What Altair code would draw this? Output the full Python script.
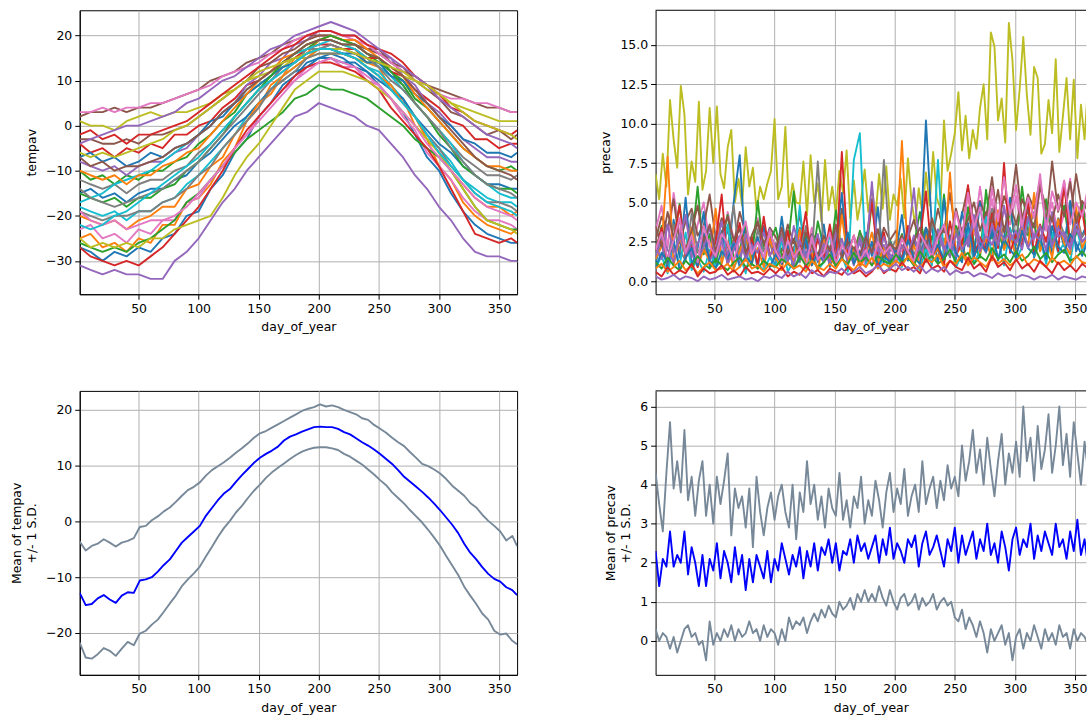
import altair as alt
import pandas as pd

FONT = "DejaVu Sans"
TAB10 = ["#1f77b4", "#ff7f0e", "#2ca02c", "#d62728", "#9467bd",
         "#8c564b", "#e377c2", "#7f7f7f", "#bcbd22", "#17becf"]
X_TICKS = [50, 100, 150, 200, 250, 300, 350]

# ---------------- tempav per station (days 1,10,20,...,360,365) ----------------
T_DAYS = [1] + list(range(10, 361, 10)) + [365]
t00 = [-27,-28,-30,-28,-29,-27,-28,-25,-24,-20,-19,-14,-11,-6,-3,2,5,9,11,14,15,16,15,13,12,9,6,3,-2,-7,-10,-15,-19,-22,-24,-25,-26,-26]
t01 = [-25,-24,-27,-26,-28,-25,-26,-22,-22,-17,-16,-13,-8,-5,1,4,9,11,15,16,19,19,18,17,14,13,8,6,0,-3,-9,-12,-17,-20,-22,-23,-24,-23]
t02 = [-10,-12,-11,-13,-11,-12,-10,-10,-8,-7,-4,-2,1,3,7,9,11,14,16,17,19,19,18,18,16,14,12,10,6,4,1,-2,-5,-7,-9,-10,-9,-10]
t03 = [-4,-6,-5,-7,-5,-6,-4,-5,-2,-2,0,1,4,6,9,10,12,14,15,17,18,18,17,17,15,15,12,11,8,6,4,1,0,-3,-3,-5,-4,-4]
t04 = [-8,-9,-10,-9,-11,-9,-8,-8,-6,-5,-2,0,3,5,9,11,14,15,18,19,21,21,20,20,18,16,15,11,9,5,3,0,-3,-5,-7,-7,-8,-8]
t05 = [-3,-3,-4,-4,-3,-4,-2,-2,-1,0,2,4,6,8,10,13,14,16,17,19,20,20,19,19,17,17,14,13,10,8,6,3,2,0,-2,-1,-3,-2]
t06 = [-23,-22,-25,-24,-26,-23,-24,-21,-21,-17,-16,-12,-9,-5,-2,2,5,8,10,13,14,15,13,13,10,9,6,2,-1,-6,-9,-12,-16,-19,-21,-21,-22,-23]
t07 = [-12,-13,-14,-13,-15,-13,-12,-12,-10,-9,-6,-4,-1,2,5,8,10,13,14,17,17,18,17,16,15,13,11,9,5,2,-1,-4,-7,-9,-11,-11,-12,-11]
t08 = [1,0,0,-1,1,2,3,2,3,3,4,5,7,8,10,11,12,13,15,15,16,16,16,15,14,14,13,11,10,8,7,5,4,3,2,1,1,1]
t09 = [-18,-19,-20,-19,-21,-19,-19,-17,-16,-13,-11,-8,-5,-2,2,5,8,11,13,15,17,17,16,15,13,12,9,6,2,-2,-5,-8,-12,-14,-16,-17,-17,-18]
t10 = [-15,-14,-16,-15,-17,-15,-14,-14,-12,-11,-8,-6,-3,0,2,5,8,10,12,13,15,15,14,14,12,10,8,6,2,-1,-4,-6,-9,-11,-13,-13,-14,-14]
t11 = [-20,-21,-22,-21,-23,-21,-20,-18,-18,-14,-13,-9,-7,-2,1,5,7,11,13,15,17,17,16,15,13,11,9,5,2,-3,-6,-10,-13,-16,-18,-18,-20,-19]
t12 = [-26,-27,-28,-27,-28,-26,-25,-23,-21,-17,-15,-12,-9,-6,-3,-1,1,3,6,7,9,8,8,7,6,4,2,0,-3,-5,-7,-10,-14,-18,-21,-22,-23,-23]
t13 = [-27,-29,-30,-31,-30,-31,-29,-27,-24,-21,-18,-14,-10,-5,-1,2,5,8,11,13,14,14,13,12,10,8,4,1,-2,-5,-9,-14,-19,-24,-25,-26,-25,-26]
t14 = [-31,-32,-33,-32,-33,-33,-34,-34,-30,-28,-25,-21,-17,-14,-10,-7,-4,-1,2,3,5,4,3,2,0,-1,-4,-7,-11,-14,-18,-21,-25,-28,-29,-29,-30,-30]
t15 = [2,3,3,4,3,4,4,5,6,7,8,10,11,12,14,15,16,18,19,20,20,20,19,18,17,16,14,12,11,9,8,7,6,5,4,4,3,3]
t16 = [3,3,4,3,4,4,5,5,6,7,8,9,11,12,13,14,16,17,19,20,21,21,20,19,18,16,14,12,10,9,7,6,6,5,5,4,3,3]
t17 = [-19,-20,-21,-20,-20,-19,-19,-17,-16,-14,-11,-9,-5,-2,1,4,8,10,12,15,16,16,16,15,13,11,8,5,2,-2,-5,-9,-12,-15,-17,-17,-18,-19]
t18 = [-25,-27,-26,-27,-26,-27,-25,-25,-23,-22,-21,-20,-16,-11,-7,-4,0,4,8,10,12,12,12,11,10,8,6,3,0,-3,-6,-10,-14,-18,-21,-22,-23,-24]
t19 = [-17,-16,-15,-13,-12,-11,-10,-8,-6,-4,-2,0,3,5,8,10,12,14,16,17,18,19,18,17,15,13,11,8,5,2,-1,-4,-8,-11,-13,-15,-16,-16]
t20 = [-7,-6,-8,-7,-9,-8,-6,-7,-5,-4,-2,1,2,5,7,9,11,13,14,16,17,17,16,16,14,14,11,10,7,5,2,0,-3,-4,-6,-6,-7,-6]
t21 = [-10,-11,-12,-11,-13,-11,-11,-9,-8,-6,-5,-2,1,4,7,10,12,15,16,18,19,20,19,19,17,15,13,11,7,4,1,-2,-5,-7,-9,-9,-10,-10]
t22 = [-15,-16,-17,-16,-18,-16,-16,-14,-13,-10,-8,-5,-2,2,5,8,11,14,16,18,19,20,19,18,16,15,12,9,5,2,-2,-5,-9,-11,-13,-14,-14,-15]
t23 = [-2,-1,-3,-2,-4,-2,-2,-1,0,1,3,5,7,9,11,13,15,17,18,20,21,21,20,20,18,17,16,14,11,9,7,4,3,1,0,-1,-2,-1]
t24 = [-4,-3,-2,-1,0,0,1,2,3,5,6,8,10,11,13,15,17,18,20,21,22,23,22,21,19,17,15,13,11,9,6,4,2,0,-2,-3,-4,-5]
t25 = [-7,-9,-8,-10,-9,-9,-8,-7,-5,-4,-2,0,3,5,8,10,12,14,16,18,19,19,18,18,16,15,13,11,8,5,2,-1,-4,-7,-9,-10,-11,-12]
t26 = [-19,-21,-22,-21,-23,-22,-21,-21,-20,-18,-15,-12,-9,-5,-2,1,4,7,10,12,14,15,14,13,11,9,6,3,0,-4,-7,-10,-13,-16,-18,-19,-20,-21]
t27 = [-14,-16,-17,-18,-17,-16,-15,-14,-12,-10,-8,-5,-2,1,4,7,10,12,14,16,17,18,17,16,15,13,10,8,5,2,-1,-5,-8,-11,-13,-14,-15,-16]
t28 = [-6,-7,-6,-7,-6,-5,-4,-3,-1,0,2,4,6,8,10,12,13,14,15,16,17,17,17,16,15,14,13,12,10,9,7,5,3,1,0,-1,-2,-3]
t29 = [-22,-23,-22,-20,-19,-17,-15,-13,-11,-9,-7,-4,-1,2,5,8,10,12,14,16,17,17,16,15,13,11,8,5,2,-2,-6,-9,-12,-15,-17,-18,-19,-20]
TEMP_SERIES = [t00, t01, t02, t03, t04, t05, t06, t07, t08, t09, t10, t11, t12, t13, t14,
               t15, t16, t17, t18, t19, t20, t21, t22, t23, t24, t25, t26, t27, t28, t29]

# ---------------- precav per station ----------------
P_DAYS3 = list(range(1, 365, 3))   # olive station
P_DAYS5 = list(range(1, 362, 5))   # other stations
p_olive = [6.8,5.2,8.1,6.0,11.5,9.0,7.2,12.4,10.6,5.5,7.6,6.3,11.4,5.8,7.0,11.0,7.5,11.1,6.8,5.9,
           8.5,9.6,5.0,6.5,4.8,8.5,6.0,7.2,4.5,6.0,5.2,6.2,7.0,10.3,5.2,6.0,9.8,4.7,6.2,5.0,
           4.9,7.6,4.2,8.0,5.0,6.2,3.8,7.7,4.5,6.0,4.3,7.0,5.6,8.3,4.0,6.4,3.9,5.2,7.1,4.4,
           5.9,4.1,6.8,4.6,7.3,3.9,5.5,4.8,6.5,4.0,7.8,5.1,3.6,5.9,4.3,6.9,4.8,8.2,5.3,4.6,
           10.2,7.0,8.1,9.4,12.0,8.3,10.5,7.8,9.6,8.4,11.0,12.5,9.0,15.8,14.9,10.2,11.6,8.8,16.4,14.0,
           9.6,12.2,15.5,11.8,9.3,13.6,12.9,8.1,8.7,11.5,9.4,14.1,8.2,10.5,12.9,9.0,12.8,7.8,11.2,9.0,12.6,8.4]
p_pink = [3.2,4.8,2.1,5.6,3.0,4.2,1.8,3.6,5.0,2.4,3.9,2.0,4.4,2.7,1.6,3.3,2.2,4.0,1.9,2.8,
          1.5,3.1,2.4,1.2,2.9,1.8,3.4,1.4,2.2,1.0,2.6,1.6,3.0,1.3,2.0,0.9,2.4,1.5,1.1,2.7,
          1.2,2.0,1.6,2.8,1.4,2.3,1.8,3.0,2.2,1.6,3.5,2.4,4.1,2.9,6.0,3.3,5.2,2.8,4.5,3.6,
          5.4,3.0,4.8,2.6,6.2,3.4,5.0,2.9,4.3,6.5,3.1,4.7,3.8]
p_brown = [2.6,4.1,3.3,5.2,2.4,3.8,4.6,2.9,3.5,5.5,2.7,4.0,3.1,2.3,4.4,3.0,2.5,3.7,2.2,3.4,
           2.8,1.9,3.6,2.4,4.2,2.1,3.0,2.6,1.8,3.3,2.2,4.6,2.5,1.9,3.1,2.4,5.2,2.0,3.4,2.6,
           3.2,2.1,2.8,3.9,2.3,3.4,2.7,4.6,3.1,5.6,2.9,4.2,6.0,3.6,5.1,4.0,6.6,3.5,5.4,4.3,
           7.4,3.9,5.5,4.6,6.4,3.7,7.6,4.4,5.8,4.0,6.8,4.5,5.2]
p_green = [1.8,3.5,1.2,2.6,4.9,1.5,2.3,6.0,1.7,3.0,1.1,2.7,4.2,1.4,2.0,3.6,1.3,5.1,1.9,2.5,
           3.4,1.6,2.2,5.7,1.5,2.9,1.2,3.8,2.1,1.4,4.5,1.8,2.4,1.1,3.2,1.6,5.0,2.0,1.3,2.6,
           1.7,3.0,1.4,2.3,4.4,1.6,2.8,1.9,5.5,2.2,3.5,1.8,4.7,2.4,1.5,5.8,2.7,3.2,2.0,4.6,
           2.3,6.0,2.9,3.7,1.9,5.2,2.6,3.4,4.8,2.1,3.0,5.0,2.5]
p_blue = [1.2,2.4,0.8,3.9,1.5,5.3,1.0,2.1,4.4,0.9,1.7,3.2,1.1,5.0,8.0,1.4,2.6,0.8,3.5,1.6,
          1.0,4.1,1.3,2.0,3.4,1.5,2.8,1.2,3.6,0.9,2.3,5.6,1.4,2.0,1.0,3.1,1.6,4.7,1.2,2.5,
          1.8,4.2,1.3,2.6,1.7,10.2,3.3,1.1,5.2,2.0,1.4,4.4,2.5,1.6,5.0,1.9,3.5,1.3,2.8,5.3,
          1.8,3.0,4.9,1.5,2.6,4.0,1.7,3.6,2.2,5.1,1.9,2.9,3.8]
p_gray = [1.5,2.8,1.1,3.6,2.0,1.3,4.3,1.8,2.5,1.2,3.1,1.6,2.2,4.8,1.4,2.7,1.0,3.3,1.9,2.4,
          1.3,3.0,1.7,2.2,1.2,3.5,1.5,7.6,2.0,1.4,3.2,1.8,2.5,1.1,2.9,1.6,2.1,1.3,7.7,1.9,
          2.6,1.4,3.1,1.7,2.4,1.2,3.8,1.9,2.7,1.5,3.3,2.0,2.6,3.9,2.2,3.0,4.6,2.4,3.5,2.9,
          3.8,2.5,3.2,4.4,2.7,3.6,2.3,4.0,3.0,2.6,4.3,2.8,3.4]
p_cyan = [0.8,1.6,0.5,2.4,1.0,3.1,0.7,1.4,0.6,2.0,0.9,1.3,3.6,0.8,1.7,0.5,2.2,1.1,0.7,1.5,
          0.9,2.6,0.6,1.3,4.8,0.8,1.9,0.7,1.2,3.0,0.9,1.6,0.6,7.7,9.4,1.1,2.3,0.8,1.5,0.7,
          1.8,0.9,2.9,1.2,0.7,2.1,1.0,7.7,1.3,2.5,0.9,1.7,3.3,1.1,2.0,4.1,1.4,2.6,1.0,3.4,
          1.3,2.2,4.0,1.6,2.7,1.1,3.1,1.8,2.4,1.2,3.5,1.9,2.8]
p_orange = [1.4,2.2,7.9,1.0,2.8,1.6,3.4,0.9,2.0,1.3,4.6,1.1,2.5,0.8,1.9,3.0,1.2,2.1,0.9,2.7,
            1.5,0.8,2.4,1.2,3.3,1.0,1.8,0.7,2.6,1.4,1.0,4.2,1.3,2.0,0.9,1.6,3.1,1.1,2.2,1.0,
            1.7,8.9,1.4,2.3,1.0,3.0,1.5,2.1,1.2,6.9,1.6,2.4,1.1,3.6,1.8,2.7,1.3,4.5,2.0,2.9,
            1.6,3.4,2.2,5.6,1.9,2.8,1.5,3.9,2.4,1.7,4.7,2.1,3.0]
p_red = [1.9,3.4,1.2,2.6,4.8,1.5,2.2,0.9,3.0,1.4,2.5,5.5,1.1,2.0,3.7,1.3,2.8,1.0,4.1,1.6,
         2.4,1.1,3.2,1.5,2.1,4.4,1.0,2.7,1.4,3.6,1.2,8.2,1.8,2.9,1.1,2.2,5.0,1.5,3.1,1.2,
         2.0,1.4,3.5,1.1,2.6,5.7,1.6,2.3,1.0,3.8,1.7,2.4,6.1,1.5,2.8,1.9,4.3,2.1,7.5,1.8,
         3.0,2.2,5.1,1.7,3.6,2.5,4.2,1.9,6.3,2.3,3.2,4.5,2.0]
p_purple = [2.2,1.4,3.6,1.8,2.7,4.2,1.5,2.4,3.1,1.3,2.0,3.8,1.6,2.5,1.2,3.0,1.9,2.6,1.4,3.3,
            1.7,2.8,1.2,3.5,2.0,1.5,2.9,1.3,2.4,1.1,3.2,1.8,2.2,1.0,2.7,1.5,6.3,1.9,2.3,1.4,
            2.1,1.3,2.6,5.9,1.8,2.4,1.5,3.0,2.0,2.7,1.6,3.4,2.2,4.2,2.5,1.8,3.6,2.3,4.8,2.6,
            3.2,2.0,4.1,2.7,3.5,1.9,4.4,2.8,3.1,2.2,3.9,2.5,3.0]
p_pink2 = [2.0,3.1,1.4,2.6,4.0,1.8,2.9,1.2,3.5,2.2,1.6,3.0,2.4,1.3,2.7,3.8,1.7,2.5,1.5,3.2,
           1.9,1.2,2.6,1.5,2.1,0.9,2.8,1.4,1.8,3.1,1.1,2.3,1.6,2.9,1.3,2.0,1.0,2.5,1.7,2.2,
           1.4,2.7,1.9,1.2,3.0,2.3,1.6,2.8,3.6,2.1,4.4,2.8,5.6,3.4,4.7,2.9,5.9,3.8,6.6,4.2,
           6.1,3.5,5.3,4.0,6.8,3.2,5.7,4.5,6.4,3.6,5.0,4.1,6.0]
p_brown2 = [3.5,2.2,4.4,2.8,3.9,2.0,3.2,4.8,2.5,3.6,1.9,3.0,4.1,2.6,3.3,1.8,2.9,3.8,2.4,3.1,
            2.0,3.4,1.7,2.7,1.5,3.1,2.2,1.6,2.9,1.9,3.6,1.4,2.5,2.1,1.6,2.8,1.8,3.3,1.5,2.4,
            2.0,2.9,1.6,2.5,3.4,2.1,4.0,2.7,3.3,2.4,4.6,3.0,3.9,5.0,3.2,4.4,3.7,5.8,3.1,4.9,
            3.6,5.2,4.3,3.4,6.0,4.7,3.8,5.5,4.1,6.3,3.7,5.1,4.4]
p_purple2 = [1.6,2.8,2.0,1.2,3.0,1.7,2.5,1.3,2.2,3.4,1.5,2.6,1.1,2.0,2.9,1.4,2.3,1.8,3.1,1.6,
             2.4,1.3,2.0,1.0,2.6,1.5,1.9,3.0,1.2,2.2,1.6,2.7,1.1,1.8,2.4,1.3,2.1,1.5,2.8,1.7,
             1.2,2.3,1.7,2.9,1.5,2.6,1.9,3.3,2.2,1.6,3.0,2.0,2.7,3.6,1.9,2.9,2.3,3.5,2.6,3.1,
             2.4,3.7,2.1,3.0,2.6,3.9,2.2,3.4,2.8,2.0,3.3,2.5,2.9]
p_blue2 = [0.9,1.8,1.2,2.6,0.7,1.5,2.1,1.0,3.0,1.3,0.8,1.9,1.4,2.4,0.9,1.6,1.1,2.8,1.3,0.9,
           1.7,1.1,2.3,0.8,1.4,2.7,1.0,1.8,1.2,2.2,0.9,1.5,3.1,1.1,1.9,1.3,2.5,1.0,1.6,1.2,
           2.0,1.3,2.6,1.5,1.1,3.4,1.7,2.3,1.4,2.9,1.8,1.2,3.7,1.6,2.4,1.9,3.1,1.4,2.7,2.0,
           1.5,3.2,2.1,1.7,2.8,1.4,3.5,2.2,1.8,3.0,2.4,1.6,2.6]
p_green_low = [1.2,0.8,1.5,1.0,0.7,1.3,0.9,1.6,1.1,0.8,1.4,1.0,0.7,1.2,1.5,0.9,1.1,0.8,1.3,1.0,
               0.9,1.4,1.1,0.8,1.6,1.0,1.3,0.9,1.2,1.7,1.0,1.4,1.1,1.8,1.2,1.5,1.0,1.6,1.3,1.1,
               1.7,1.2,1.5,1.0,1.9,1.3,1.6,1.1,1.4,2.0,1.2,1.5,1.8,1.1,1.6,1.3,2.1,1.4,1.7,1.2,
               1.9,1.3,1.6,2.2,1.4,1.8,1.2,1.7,2.0,1.3,1.5,1.9,1.4]
p_orange_low = [0.8,1.1,0.6,0.9,1.3,0.7,1.0,0.5,0.9,1.2,0.7,0.8,1.1,0.6,0.9,1.4,0.8,1.0,0.6,1.1,
                0.9,0.7,1.2,0.8,1.0,0.6,1.3,0.9,0.7,1.1,0.8,1.4,1.0,0.7,1.2,0.9,1.5,0.8,1.1,0.9,
                1.3,1.0,1.6,1.1,0.8,1.4,1.2,1.7,0.9,1.3,1.1,1.8,1.0,1.5,1.2,0.9,1.6,1.1,1.4,1.0,
                1.3,1.7,1.0,1.4,1.2,0.9,1.5,1.1,1.3,1.0,1.6,1.2,1.1]
p_red_low = [0.6,0.3,0.9,0.4,0.7,0.5,1.1,0.3,0.8,0.5,0.6,1.0,0.4,0.7,0.3,0.9,0.5,0.6,0.4,0.8,
             0.5,0.9,0.3,0.6,0.4,1.0,0.5,0.7,0.3,0.8,0.6,0.4,0.9,0.5,0.7,0.3,0.6,1.1,0.5,0.8,
             0.6,1.2,0.7,0.9,0.5,1.4,0.8,1.0,0.6,1.3,0.9,0.7,1.5,0.8,1.1,0.6,1.6,0.9,1.2,0.7,
             1.4,0.8,1.1,0.6,1.3,0.9,0.5,1.2,0.7,1.0,0.6,1.1,0.8]
p_purple_low = [0.3,0.1,0.2,0.4,0.1,0.3,0.2,0.0,0.3,0.1,0.2,0.4,0.1,0.2,0.3,0.1,0.2,0.0,0.3,0.2,
                0.4,0.2,0.6,0.3,0.5,0.2,0.7,0.4,0.3,0.6,0.5,0.8,0.4,0.6,0.9,0.5,0.7,1.0,0.6,0.8,
                1.1,0.7,0.9,0.6,1.0,0.5,0.8,0.6,0.9,0.4,0.7,0.5,0.6,0.3,0.5,0.4,0.2,0.5,0.3,0.4,
                0.2,0.4,0.3,0.1,0.3,0.2,0.4,0.1,0.3,0.2,0.1,0.3,0.2]

# ---------------- mean tempav +/- 1 S.D. ----------------
M_DAYS5 = list(range(1, 362, 5)) + [365]
tm_mean = [-12.8,-15.0,-14.8,-13.8,-13.2,-14.0,-14.6,-13.3,-12.7,-12.8,-10.6,-10.4,-10.0,-9.0,-7.8,-6.8,-5.3,-3.8,-2.8,-1.8,
           -0.8,1.0,2.4,3.8,5.0,5.8,7.1,8.3,9.4,10.5,11.4,12.1,12.7,13.4,14.5,15.2,15.6,16.1,16.5,16.9,
           17.0,16.9,16.9,16.6,16.0,15.6,14.9,14.2,13.6,12.9,12.1,11.2,10.3,9.2,8.0,7.1,6.2,5.3,4.3,3.2,
           2.0,0.7,-0.6,-2.1,-4.0,-5.6,-6.8,-8.2,-9.4,-10.3,-10.8,-11.8,-12.3,-13.2]
tm_upper = [-3.6,-5.2,-4.4,-4.0,-3.2,-3.8,-4.5,-3.8,-3.5,-3.0,-1.0,-0.8,0.2,0.9,1.8,2.5,3.5,4.6,5.6,6.2,
            7.0,8.2,9.2,9.9,10.6,11.4,12.3,13.1,14.0,15.0,15.8,16.2,16.8,17.4,18.0,18.6,19.2,19.8,20.2,20.5,
            21.0,20.6,20.8,20.5,20.0,19.6,19.2,18.5,18.2,17.3,16.6,15.9,15.0,14.2,13.5,12.4,11.4,10.3,9.9,9.3,
            8.6,7.6,6.4,5.5,4.6,3.3,2.5,1.2,0.1,-0.8,-1.8,-3.4,-2.6,-4.4]
tm_lower = [-21.7,-24.4,-24.6,-23.8,-22.7,-23.2,-24.1,-22.8,-21.6,-22.2,-20.1,-19.6,-18.5,-17.6,-16.2,-14.7,-13.3,-11.6,-10.4,-9.3,
            -8.1,-6.3,-4.6,-2.8,-1.2,0.1,1.6,2.8,4.2,5.5,6.6,7.8,8.8,9.6,10.4,11.2,11.9,12.5,12.9,13.2,
            13.3,13.3,13.1,12.8,12.1,11.6,10.9,10.2,9.3,8.4,7.4,6.5,5.2,4.2,3.2,2.0,0.9,-0.2,-1.5,-2.9,
            -4.4,-6.2,-7.9,-9.6,-11.7,-13.3,-14.8,-16.5,-17.6,-19.6,-20.3,-20.1,-21.4,-22.0]

# ---------------- mean precav +/- 1 S.D. ----------------
M_DAYS3 = list(range(1, 365, 3))
pm_mean = [2.3,1.4,2.1,1.9,2.8,1.9,2.2,2.0,2.8,1.7,2.4,2.0,1.4,2.2,1.4,2.1,1.8,2.5,1.6,2.3,
           2.0,1.5,2.4,1.7,2.2,1.3,2.1,1.5,2.2,1.9,1.6,2.3,1.5,2.1,1.8,2.5,2.1,1.7,2.2,1.9,
           2.4,1.6,2.3,1.9,2.5,1.8,2.4,2.2,2.6,2.0,2.5,1.8,2.3,2.2,2.6,2.0,2.7,2.3,2.5,2.1,
           2.4,2.7,2.0,2.6,2.2,2.9,2.1,2.5,2.3,2.0,2.6,2.4,2.7,1.9,2.5,2.8,2.2,2.4,2.7,2.3,
           1.9,2.6,2.3,2.9,2.0,2.7,2.2,2.5,2.8,2.1,2.6,2.3,3.0,2.2,2.5,2.0,2.8,2.4,1.8,2.6,
           2.9,2.2,2.6,2.4,3.0,2.1,2.7,2.3,2.8,2.5,2.2,3.0,2.4,2.6,2.1,2.8,2.3,3.1,2.2,2.6,1.9,2.5]
pm_upper = [4.3,3.5,2.8,4.3,5.6,3.9,4.6,3.8,5.4,3.6,4.2,3.2,4.1,4.6,3.2,4.0,3.0,4.2,3.5,4.1,
            4.8,2.7,3.9,3.4,3.7,2.9,3.9,2.4,4.2,3.3,2.7,3.4,3.8,3.1,3.7,4.0,3.3,2.9,4.0,2.6,
            3.8,3.3,4.6,3.5,4.0,3.1,3.7,2.9,3.9,3.4,3.2,4.3,3.1,3.6,2.9,3.7,3.4,4.2,3.0,3.6,
            3.2,4.1,3.6,2.9,3.8,4.3,3.3,3.9,3.5,4.4,3.2,3.7,4.0,3.3,4.6,3.5,3.9,4.2,3.4,4.1,
            3.6,4.5,3.9,4.2,3.7,5.0,4.1,4.6,5.4,4.3,4.9,4.0,5.2,4.4,3.7,4.6,5.3,4.0,4.8,4.3,
            5.1,4.2,6.0,4.6,5.2,4.1,5.5,4.4,4.9,5.8,4.3,5.0,6.0,4.5,5.3,4.2,5.6,4.8,4.0,5.1,4.3,6.0]
pm_lower = [0.3,0.0,0.2,0.1,-0.2,0.1,-0.3,0.0,0.3,0.4,0.1,0.2,-0.1,0.0,-0.5,0.5,-0.1,0.2,0.0,0.3,
            0.1,0.4,0.0,0.3,0.1,0.2,0.5,0.2,0.3,0.0,0.4,0.1,0.3,0.2,-0.1,0.3,0.0,0.6,0.3,0.5,
            0.4,0.6,0.2,0.5,0.7,0.5,0.8,0.6,0.9,0.7,0.6,1.0,0.8,0.9,1.1,0.8,1.2,1.0,1.3,1.0,
            1.2,1.0,1.4,1.1,0.9,1.3,1.0,0.8,1.1,1.2,0.9,1.0,1.2,0.8,1.1,0.9,1.0,1.2,0.8,1.0,
            1.1,0.9,1.0,0.6,0.5,0.8,0.3,0.6,0.4,0.1,0.5,0.2,-0.3,0.3,0.0,0.2,0.4,-0.1,0.2,-0.5,
            0.1,0.3,-0.2,0.2,0.0,0.4,0.1,-0.2,0.3,0.0,0.2,-0.1,0.4,0.1,0.2,-0.2,0.3,0.0,0.2,0.1,-0.1,0.3]


def long_frame(groups):
    rows = []
    for name, days, vals in groups:
        for d, v in zip(days, vals):
            rows.append((d, v, name))
    return pd.DataFrame(rows, columns=["day_of_year", "value", "series"])


# ---- series groups (name, days, values, colour) ----
temp_groups = [(f"s{i:02d}", T_DAYS, s, TAB10[i % 10]) for i, s in enumerate(TEMP_SERIES)]
prec_groups = [("p00", P_DAYS3, p_olive, TAB10[8]),
               ("p01", P_DAYS5, p_pink, TAB10[6]),
               ("p02", P_DAYS5, p_brown, TAB10[5]),
               ("p03", P_DAYS5, p_green, TAB10[2]),
               ("p04", P_DAYS5, p_blue, TAB10[0]),
               ("p05", P_DAYS5, p_gray, TAB10[7]),
               ("p06", P_DAYS5, p_cyan, TAB10[9]),
               ("p07", P_DAYS5, p_orange, TAB10[1]),
               ("p08", P_DAYS5, p_red, TAB10[3]),
               ("p09", P_DAYS5, p_purple, TAB10[4]),
               ("p10", P_DAYS5, p_blue2, TAB10[0]),
               ("p11", P_DAYS5, p_purple2, TAB10[4]),
               ("p12", P_DAYS5, p_brown2, TAB10[5]),
               ("p13", P_DAYS5, p_pink2, TAB10[6]),
               ("p14", P_DAYS5, p_green_low, TAB10[2]),
               ("p15", P_DAYS5, p_orange_low, TAB10[1]),
               ("p16", P_DAYS5, p_red_low, TAB10[3]),
               ("p17", P_DAYS5, p_purple_low, TAB10[4])]
tm_groups = [("tm_a_upper", M_DAYS5, tm_upper, "#778899"),
             ("tm_b_mean", M_DAYS5, tm_mean, "#0000ff"),
             ("tm_c_lower", M_DAYS5, tm_lower, "#778899")]
pm_groups = [("pm_a_upper", M_DAYS3, pm_upper, "#778899"),
             ("pm_b_mean", M_DAYS3, pm_mean, "#0000ff"),
             ("pm_c_lower", M_DAYS3, pm_lower, "#778899")]

ALL_GROUPS = temp_groups + prec_groups + tm_groups + pm_groups
COLOR_SCALE = alt.Scale(domain=[g[0] for g in ALL_GROUPS], range=[g[3] for g in ALL_GROUPS])

LEFT_W, RIGHT_W, H = 439, 432, 285
LEFT_XDOM = [1, 365]
RIGHT_XDOM = [1, 359.2]


def panel(groups, xdom, width, ydom, yticks, yfmt, ytitle, right_side):
    df = long_frame([(g[0], g[1], g[2]) for g in groups])
    lines = alt.Chart(df).mark_line(strokeWidth=1.9, clip=True, strokeJoin="round").encode(
        x=alt.X("day_of_year:Q",
                scale=alt.Scale(domain=xdom, nice=False, zero=False),
                axis=alt.Axis(title="day_of_year", values=X_TICKS, format="d",
                              labelOverlap=False, labelFlush=False)),
        y=alt.Y("value:Q",
                scale=alt.Scale(domain=ydom, nice=False, zero=False),
                axis=alt.Axis(title=ytitle, values=yticks, format=yfmt,
                              labelOverlap=False, labelFlush=False)),
        color=alt.Color("series:N", scale=COLOR_SCALE, legend=None),
    )
    if not right_side:
        return lines.properties(width=width, height=H)
    top = alt.Chart(pd.DataFrame({"k": [0]})).mark_rule(color="black", strokeWidth=1).encode(
        x=alt.value(0), x2=alt.value(width), y=alt.value(0))
    return alt.layer(lines, top).properties(
        width=width, height=H, view=alt.ViewBackground(stroke="transparent"))


top_left = panel(temp_groups, LEFT_XDOM, LEFT_W, [-37.4, 25.6],
                 [-30, -20, -10, 0, 10, 20], "d", "tempav", False)
top_right = panel(prec_groups, RIGHT_XDOM, RIGHT_W, [-0.83, 17.2],
                  [0, 2.5, 5, 7.5, 10, 12.5, 15], ".1f", "precav", True)
bottom_left = panel(tm_groups, LEFT_XDOM, LEFT_W, [-27.5, 23.4],
                    [-20, -10, 0, 10, 20], "d", ["Mean of tempav", "+/- 1 S.D."], False)
bottom_right = panel(pm_groups, RIGHT_XDOM, RIGHT_W, [-0.87, 6.4],
                     [0, 1, 2, 3, 4, 5, 6], "d", ["Mean of precav", "+/- 1 S.D."], True)

left_col = alt.vconcat(top_left, bottom_left, spacing=56)
right_col = alt.vconcat(top_right, bottom_right, spacing=56)

chart = alt.hconcat(left_col, right_col, spacing=81).properties(
    padding={"left": 10, "top": 8, "right": 0, "bottom": 0}
).configure_view(
    stroke="black", strokeWidth=1
).configure_axis(
    labelFont=FONT, labelFontSize=12.5, labelColor="black",
    titleFont=FONT, titleFontSize=12.5, titleFontWeight="normal", titleColor="black",
    tickColor="black", tickSize=5, tickWidth=1, labelPadding=3,
    domainColor="black", domainWidth=1,
    grid=True, gridColor="#b0b0b0", gridWidth=1, titlePadding=6,
).configure_axisY(
    titlePadding=7, titleLineHeight=15
)

chart.save("out.html", embed_options={"renderer": "svg", "actions": False})
